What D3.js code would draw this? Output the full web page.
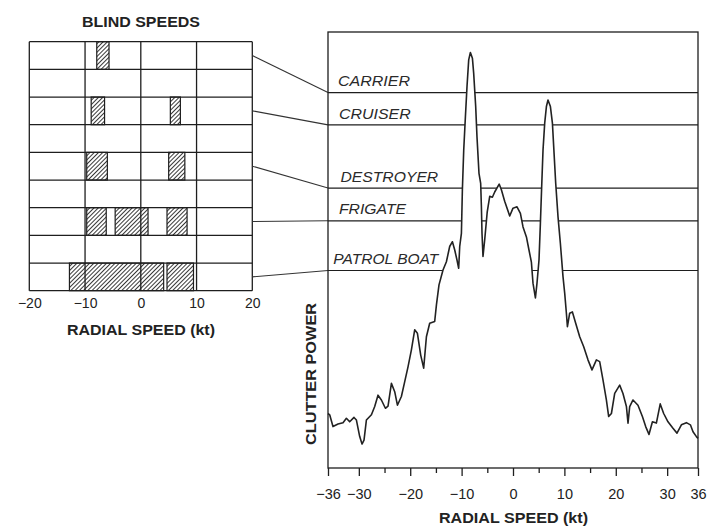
<!DOCTYPE html>
<html><head><meta charset="utf-8">
<script src="https://cdn.jsdelivr.net/npm/d3@7"></script>
<style>
html,body{margin:0;padding:0;background:#fff;}
svg{display:block;font-family:"Liberation Sans",Arial,Helvetica,sans-serif;}
</style></head>
<body>
<svg id="chart" width="707" height="526"></svg>
<script>
// ---------- data ----------
const vessels = ["CARRIER", "CRUISER", "DESTROYER", "FRIGATE", "PATROL BOAT"];
// detection threshold per vessel (relative clutter power, 0..100)
const thresholds = [86.1, 78.7, 64.2, 56.7, 45.3];
// blind speed intervals (kt) per vessel
const blindSpeeds = [
  [[-7.9, -5.7]],
  [[-8.9, -6.5], [5.3, 7.1]],
  [[-9.7, -6.0], [5.0, 7.9]],
  [[-9.7, -6.2], [-4.6, 1.3], [4.7, 8.3]],
  [[-12.8, 4.1], [4.7, 9.45]]
];
const leftTicks = [-20, -10, 0, 10, 20];
const rightTicks = [-36, -30, -20, -10, 0, 10, 20, 30, 36];
const rightMinorTicks = [-25, -15, -5, 5, 15, 25];
// clutter spectrum: radial speed (kt) and relative clutter power
const speed = [-36.0,-35.67,-35.03,-34.05,-33.08,-32.42,-31.78,-30.94,-30.47,-29.83,-29.38,-28.99,-28.53,-27.55,-26.91,-26.27,-25.61,-24.83,-24.32,-23.66,-23.02,-22.49,-21.72,-21.07,-20.43,-19.77,-19.13,-18.60,-17.96,-17.38,-16.85,-16.21,-15.24,-14.90,-14.40,-13.62,-12.96,-12.32,-11.79,-11.34,-10.90,-10.57,-10.37,-10.04,-9.85,-9.59,-9.26,-8.95,-8.62,-8.29,-7.90,-7.65,-7.26,-7.01,-6.62,-6.29,-6.15,-6.03,-5.84,-5.51,-5.02,-4.53,-4.01,-3.56,-2.69,-2.26,-1.62,-0.64,0.0,0.78,1.44,1.95,2.61,3.11,3.58,3.89,4.36,4.67,5.06,5.33,5.58,5.84,6.17,6.50,6.81,7.28,7.67,7.92,8.31,8.76,9.22,9.73,10.06,10.39,10.59,11.03,11.56,12.20,12.98,13.76,14.59,15.37,16.23,16.87,17.51,18.17,18.62,19.15,19.79,20.76,21.40,22.07,22.38,22.71,23.35,24.32,25.18,25.82,26.46,27.13,27.90,28.65,29.32,30.16,31.13,31.91,32.77,33.74,34.52,35.03,35.69,36.0];
const power = [12.5,12.2,9.5,10.1,10.4,11.4,10.6,11.6,11.0,7.2,5.5,6.4,11.0,12.2,14.1,16.7,15.6,13.7,14.2,19.4,17.5,14.4,16.4,19.8,23.2,27.1,31.7,30.9,25.9,22.9,30.1,33.2,33.6,37.4,42.0,45.4,47.3,50.8,51.9,50.0,47.7,45.8,50.8,53.8,63.8,72.9,80.6,87.5,93.6,95.3,94.0,90.5,82.9,76.0,67.6,65.3,59.9,53.8,48.5,52.3,58.7,62.3,62.1,63.3,65.1,63.8,61.2,57.8,59.6,59.9,58.4,55.3,53.0,50.0,47.2,42.4,39.0,42.4,47.7,56.1,64.5,72.9,79.1,82.9,84.4,82.9,79.1,73.7,65.3,57.6,51.5,43.9,40.1,35.5,32.4,35.5,35.8,33.2,30.1,27.8,24.8,22.5,24.8,24.4,20.2,15.6,11.8,12.5,17.1,19.0,17.1,14.1,10.3,14.1,15.6,14.4,11.8,9.5,7.7,10.6,10.3,14.7,12.5,10.6,9.1,8.0,9.9,10.4,9.9,8.3,7.2,6.8];

// ---------- layout ----------
const ink = "#1e1e1e";
const svg = d3.select("#chart");
const defs = svg.append("defs");
defs.append("pattern").attr("id", "hatch").attr("patternUnits", "userSpaceOnUse")
  .attr("width", 3).attr("height", 10).attr("patternTransform", "rotate(45)")
  .append("line").attr("x1", 0.5).attr("y1", 0).attr("x2", 0.5).attr("y2", 10)
  .attr("stroke", "#222").attr("stroke-width", 0.9);

// ---------- left panel: blind speeds ----------
const xL = d3.scaleLinear().domain([-20, 20]).range([29.3, 252.3]);
const rowsL = d3.scaleBand().domain(d3.range(9)).range([41.7, 290.7]);
const rowOf = i => i * 2;
const left = svg.append("g");

left.append("text").attr("x", 141).attr("y", 26.7).attr("text-anchor", "middle")
  .attr("font-weight", "bold").attr("font-size", 14.5).attr("fill", "#222")
  .attr("textLength", 118).attr("lengthAdjust", "spacingAndGlyphs").text("BLIND SPEEDS");

// bars
blindSpeeds.forEach((ints, i) => {
  left.selectAll(null).data(ints).enter().append("rect")
    .attr("x", d => xL(d[0])).attr("width", d => xL(d[1]) - xL(d[0]))
    .attr("y", rowsL(rowOf(i))).attr("height", rowsL.bandwidth())
    .attr("fill", "url(#hatch)").attr("stroke", ink).attr("stroke-width", 1.2);
});
// grid
left.selectAll(".hl").data(d3.range(10)).enter().append("line")
  .attr("x1", xL(-20)).attr("x2", xL(20))
  .attr("y1", d => 41.7 + d * rowsL.step()).attr("y2", d => 41.7 + d * rowsL.step())
  .attr("stroke", ink).attr("stroke-width", 1.3);
left.selectAll(".vl").data(leftTicks).enter().append("line")
  .attr("x1", d => xL(d)).attr("x2", d => xL(d))
  .attr("y1", 41.7).attr("y2", 290.7)
  .attr("stroke", ink).attr("stroke-width", 1.3);

const fmt = d => d < 0 ? "\u2212" + Math.abs(d) : String(d);
const axL = left.append("g").attr("transform", "translate(0,290.7)")
  .call(d3.axisBottom(xL).tickValues(leftTicks).tickSize(0).tickPadding(7.7).tickFormat(fmt));
axL.select(".domain").remove();
axL.selectAll("text").attr("font-size", 14).attr("fill", "#222").attr("font-family", "Liberation Sans,Arial,sans-serif");

left.append("text").attr("x", 141).attr("y", 335).attr("text-anchor", "middle")
  .attr("font-weight", "bold").attr("font-size", 14.5).attr("fill", "#222")
  .attr("textLength", 148).attr("lengthAdjust", "spacingAndGlyphs").text("RADIAL SPEED (kt)");

// ---------- right panel: clutter spectrum ----------
const xR = d3.scaleLinear().domain([-36, 36]).range([328, 698]);
const yR = d3.scaleLinear().domain([0, 100]).range([468, 32]);
const right = svg.append("g");

// threshold lines
right.selectAll(".th").data(thresholds).enter().append("line")
  .attr("x1", xR(-36)).attr("x2", xR(36))
  .attr("y1", d => yR(d)).attr("y2", d => yR(d))
  .attr("stroke", ink).attr("stroke-width", 1.2);

// leader lines
right.selectAll(".ld").data(thresholds).enter().append("line")
  .attr("x1", xL(20)).attr("y1", (d, i) => rowsL(rowOf(i)) + rowsL.bandwidth() / 2)
  .attr("x2", xR(-36)).attr("y2", d => yR(d))
  .attr("stroke", "#333").attr("stroke-width", 1.1);

const pts = speed.map((s, i) => [s, power[i]]);
right.append("path").datum(pts)
  .attr("d", d3.area().x(d => xR(d[0])).y0(yR(0)).y1(d => yR(d[1])))
  .attr("fill", "#fff");
right.append("path").datum(pts)
  .attr("d", d3.line().x(d => xR(d[0])).y(d => yR(d[1])))
  .attr("fill", "none").attr("stroke", "#222").attr("stroke-width", 1.6).attr("stroke-linejoin", "round");

// labels
const labelX = [338, 339, 340.5, 339, 333.3];
const labelW = [72, 71.7, 97.7, 67, 105];
right.selectAll(".lb").data(vessels).enter().append("text")
  .attr("x", (d, i) => labelX[i]).attr("y", (d, i) => yR(thresholds[i]) - 6.3)
  .attr("font-style", "italic").attr("font-size", 15).attr("fill", "#2a2a2a")
  .attr("textLength", (d, i) => labelW[i]).attr("lengthAdjust", "spacingAndGlyphs")
  .text(d => d);

// frame
right.append("rect").attr("x", xR(-36)).attr("y", yR(100)).attr("width", xR(36) - xR(-36))
  .attr("height", yR(0) - yR(100)).attr("fill", "none").attr("stroke", ink).attr("stroke-width", 1.3);

// axis
const axR = right.append("g").attr("transform", `translate(0,${yR(0)})`)
  .call(d3.axisBottom(xR).tickValues(rightTicks).tickSize(8).tickPadding(13).tickFormat(fmt));
axR.select(".domain").remove();
axR.selectAll("line").attr("stroke", ink).attr("stroke-width", 1.3);
axR.selectAll("text").attr("font-size", 14.5).attr("fill", "#222").attr("font-family", "Liberation Sans,Arial,sans-serif");
const axM = right.append("g").attr("transform", `translate(0,${yR(0)})`)
  .call(d3.axisBottom(xR).tickValues(rightMinorTicks).tickSize(5).tickFormat(""));
axM.select(".domain").remove();
axM.selectAll("line").attr("stroke", ink).attr("stroke-width", 1.3);

right.append("text").attr("x", 513.5).attr("y", 523).attr("text-anchor", "middle")
  .attr("font-weight", "bold").attr("font-size", 14.5).attr("fill", "#222")
  .attr("textLength", 149).attr("lengthAdjust", "spacingAndGlyphs").text("RADIAL SPEED (kt)");

right.append("text").attr("transform", "translate(316,374) rotate(-90)").attr("text-anchor", "middle")
  .attr("font-weight", "bold").attr("font-size", 14.5).attr("fill", "#222")
  .attr("textLength", 142).attr("lengthAdjust", "spacingAndGlyphs").text("CLUTTER POWER");
</script>
</body></html>
